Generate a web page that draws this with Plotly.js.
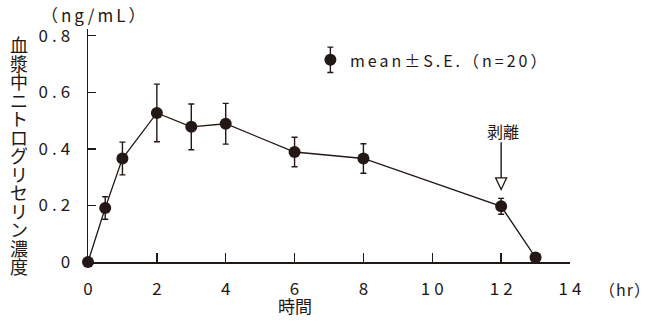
<!DOCTYPE html>
<html><head><meta charset="utf-8">
<script src="https://cdn.plot.ly/plotly-3.0.1.min.js"></script>
<style>
html,body{margin:0;padding:0;background:#fff}#c{width:654px;height:324px}
</style>
</head><body><div id="c"></div>
<script>
// ---- data ----
const hours = [0, 0.5, 1, 2, 3, 4, 6, 8, 12, 13];
const meanConc = [0, 0.191, 0.366, 0.527, 0.478, 0.489, 0.389, 0.366, 0.197, 0.016];
const seConc = [0, 0.04, 0.058, 0.102, 0.081, 0.072, 0.052, 0.052, 0.028, 0];
const xTicks = [0, 2, 4, 6, 8, 10, 12, 14];
const yTicks = [0, 0.2, 0.4, 0.6, 0.8];
const yTickText = ['0', '0.2', '0.4', '0.6', '0.8'];
const yTitleText = '血漿中ニトログリセリン濃度';
const yUnitText = '（ng/mL）';
const xTitleText = '時間';
const xUnitText = '（hr）';
const legendText = 'mean±S.E.（n=20）';
const removalText = '剥離';
const removalHour = 12;
const legendKeyX = [7.04];
const legendKeyY = [0.715];
const legendKeyErr = [0.045];

const INK = '#231815';
const FONT = '"Noto Sans CJK JP", "Noto Sans", sans-serif';
const removalY = meanConc[hours.indexOf(removalHour)];
const spaced = (s, px) => '<span style="letter-spacing:' + px + 'px">' + s + '</span>';

const traces = [
  {
    x: hours, y: meanConc, type: 'scatter', mode: 'lines+markers',
    line: {color: INK, width: 1.3},
    marker: {color: INK, size: 12},
    error_y: {type: 'data', array: seConc, visible: true, color: INK, thickness: 1.4, width: 3},
    cliponaxis: false, showlegend: false, hoverinfo: 'skip'
  },
  {
    x: legendKeyX, y: legendKeyY, type: 'scatter', mode: 'markers',
    marker: {color: INK, size: 12},
    error_y: {type: 'data', array: legendKeyErr, visible: true, color: INK, thickness: 1.4, width: 3},
    cliponaxis: false, showlegend: false, hoverinfo: 'skip'
  }
];

const annotations = [];
// vertical stacked y title (one text, lines tightened after render)
annotations.push({
  text: Array.from(yTitleText).join('<br>'), xref: 'paper', yref: 'paper', x: 0, y: 1,
  xanchor: 'center', yanchor: 'top', xshift: -69.5, yshift: 0,
  showarrow: false, font: {family: FONT, size: 18, color: INK}
});
annotations.push({text: spaced(yUnitText, 3), xref: 'paper', yref: 'paper', x: 0, y: 1,
  xanchor: 'center', yanchor: 'middle', xshift: 7, yshift: 14.5,
  showarrow: false, font: {family: FONT, size: 17, color: INK}});
annotations.push({text: xTitleText, xref: 'paper', yref: 'paper', x: 0.43, y: 0,
  xanchor: 'center', yanchor: 'middle', xshift: 0, yshift: -43,
  showarrow: false, font: {family: FONT, size: 17, color: INK}});
annotations.push({text: spaced(xUnitText, 1), xref: 'paper', yref: 'paper', x: 1, y: 0,
  xanchor: 'center', yanchor: 'middle', xshift: 55, yshift: -27,
  showarrow: false, font: {family: FONT, size: 16, color: INK}});
annotations.push({text: spaced(legendText, 3), xref: 'x', yref: 'y', x: legendKeyX[0], y: legendKeyY[0],
  xanchor: 'left', yanchor: 'middle', xshift: 18, yshift: 0,
  showarrow: false, font: {family: FONT, size: 16, color: INK}});
annotations.push({text: removalText, xref: 'x', yref: 'y', x: removalHour, y: removalY,
  xanchor: 'center', yanchor: 'middle', xshift: 2, yshift: 75.5,
  showarrow: false, font: {family: FONT, size: 16, color: INK}});

const layout = {
  width: 654, height: 324,
  margin: {l: 87.5, r: 84.2, t: 29.3, b: 61.7, pad: 0},
  paper_bgcolor: '#fff', plot_bgcolor: '#fff',
  font: {family: FONT, size: 17, color: INK},
  showlegend: false,
  xaxis: {
    range: [0, 14], tickvals: xTicks, ticktext: xTicks.map(v => spaced(String(v), 4)),
    showgrid: false, zeroline: false, showline: true, linecolor: INK, linewidth: 1.5,
    ticks: 'inside', ticklen: 9, tickwidth: 1.4, tickcolor: INK,
    ticklabelstandoff: 11, ticklabelshift: 2,
    tickfont: {family: FONT, size: 17, color: INK}, fixedrange: true
  },
  yaxis: {
    range: [0, 0.824], tickvals: yTicks, ticktext: yTickText.map(v => spaced(v, 4)),
    showgrid: false, zeroline: false, showline: true, linecolor: INK, linewidth: 1.5,
    ticks: 'inside', ticklen: 8, tickwidth: 1.4, tickcolor: INK, ticklabelstandoff: 9,
    tickfont: {family: FONT, size: 17, color: INK}, fixedrange: true
  },
  annotations: annotations,
  shapes: [
    {type: 'path', xref: 'x', yref: 'y', xsizemode: 'pixel', ysizemode: 'pixel',
     xanchor: removalHour, yanchor: removalY,
     path: 'M0,64 L0,28.4', line: {color: INK, width: 1.4}},
    {type: 'path', xref: 'x', yref: 'y', xsizemode: 'pixel', ysizemode: 'pixel',
     xanchor: removalHour, yanchor: removalY,
     path: 'M-5.5,28.4 L5.5,28.4 L0,16.7 Z', fillcolor: '#fff', line: {color: INK, width: 1.3}}
  ]
};

Plotly.newPlot('c', traces, layout, {staticPlot: true, displayModeBar: false}).then(() => {
  // tighten the stacked y-title characters to the reference spacing
  const ann = document.querySelectorAll('#c .annotation')[0];
  const lines = ann.querySelectorAll('tspan.line');
  lines.forEach((t, i) => t.setAttribute('dy', (i * 18.5) + 'px'));
});
</script>
</body></html>
